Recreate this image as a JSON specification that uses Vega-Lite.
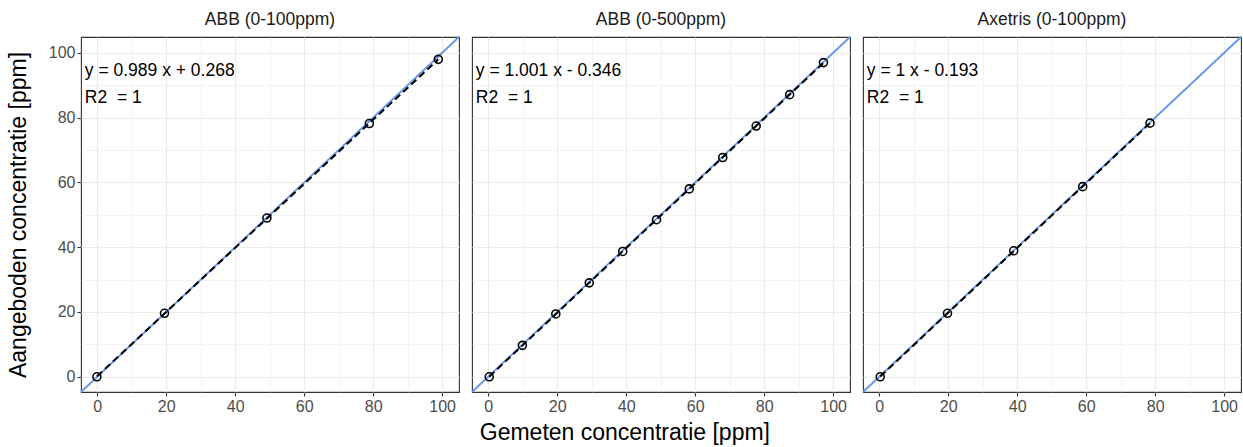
{
  "$schema": "https://vega.github.io/schema/vega-lite/v6.json",
  "padding": {"left": 7, "top": 10, "right": 0, "bottom": 0},
  "background": "white",
  "bounds": "flush",
  "title": {"text": "Gemeten concentratie [ppm]", "orient": "bottom", "anchor": "middle", "fontSize": 23, "font": "Liberation Sans", "fontWeight": "normal", "color": "#000000", "offset": 8},
  "data": {"values": [
    {"panel": "ABB (0-100ppm)", "x": -0.1, "y": 0, "eq": "y = 0.989 x + 0.268", "r2": "R2\u00a0 = 1"},
    {"panel": "ABB (0-100ppm)", "x": 19.5, "y": 19.6, "eq": "y = 0.989 x + 0.268", "r2": "R2\u00a0 = 1"},
    {"panel": "ABB (0-100ppm)", "x": 49.2, "y": 49.0, "eq": "y = 0.989 x + 0.268", "r2": "R2\u00a0 = 1"},
    {"panel": "ABB (0-100ppm)", "x": 78.9, "y": 78.2, "eq": "y = 0.989 x + 0.268", "r2": "R2\u00a0 = 1"},
    {"panel": "ABB (0-100ppm)", "x": 98.9, "y": 98.0, "eq": "y = 0.989 x + 0.268", "r2": "R2\u00a0 = 1"},
    {"panel": "ABB (0-500ppm)", "x": 0.3, "y": 0, "eq": "y = 1.001 x - 0.346", "r2": "R2\u00a0 = 1"},
    {"panel": "ABB (0-500ppm)", "x": 9.9, "y": 9.7, "eq": "y = 1.001 x - 0.346", "r2": "R2\u00a0 = 1"},
    {"panel": "ABB (0-500ppm)", "x": 19.6, "y": 19.4, "eq": "y = 1.001 x - 0.346", "r2": "R2\u00a0 = 1"},
    {"panel": "ABB (0-500ppm)", "x": 29.3, "y": 29.0, "eq": "y = 1.001 x - 0.346", "r2": "R2\u00a0 = 1"},
    {"panel": "ABB (0-500ppm)", "x": 39.0, "y": 38.7, "eq": "y = 1.001 x - 0.346", "r2": "R2\u00a0 = 1"},
    {"panel": "ABB (0-500ppm)", "x": 48.8, "y": 48.5, "eq": "y = 1.001 x - 0.346", "r2": "R2\u00a0 = 1"},
    {"panel": "ABB (0-500ppm)", "x": 58.3, "y": 58.0, "eq": "y = 1.001 x - 0.346", "r2": "R2\u00a0 = 1"},
    {"panel": "ABB (0-500ppm)", "x": 68.0, "y": 67.7, "eq": "y = 1.001 x - 0.346", "r2": "R2\u00a0 = 1"},
    {"panel": "ABB (0-500ppm)", "x": 77.7, "y": 77.4, "eq": "y = 1.001 x - 0.346", "r2": "R2\u00a0 = 1"},
    {"panel": "ABB (0-500ppm)", "x": 87.4, "y": 87.1, "eq": "y = 1.001 x - 0.346", "r2": "R2\u00a0 = 1"},
    {"panel": "ABB (0-500ppm)", "x": 97.2, "y": 97.0, "eq": "y = 1.001 x - 0.346", "r2": "R2\u00a0 = 1"},
    {"panel": "Axetris (0-100ppm)", "x": 0.3, "y": 0, "eq": "y = 1 x - 0.193", "r2": "R2\u00a0 = 1"},
    {"panel": "Axetris (0-100ppm)", "x": 19.8, "y": 19.6, "eq": "y = 1 x - 0.193", "r2": "R2\u00a0 = 1"},
    {"panel": "Axetris (0-100ppm)", "x": 39.0, "y": 38.9, "eq": "y = 1 x - 0.193", "r2": "R2\u00a0 = 1"},
    {"panel": "Axetris (0-100ppm)", "x": 59.0, "y": 58.7, "eq": "y = 1 x - 0.193", "r2": "R2\u00a0 = 1"},
    {"panel": "Axetris (0-100ppm)", "x": 78.5, "y": 78.3, "eq": "y = 1 x - 0.193", "r2": "R2\u00a0 = 1"}
  ]},
  "facet": {"column": {"field": "panel", "type": "nominal", "sort": null, "title": null,
    "header": {"labelFontSize": 17.5, "labelFont": "Liberation Sans", "labelColor": "#1a1a1a", "labelPadding": 9}}},
  "spacing": 13,
  "spec": {
    "width": 378,
    "height": 355,
    "encoding": {
      "x": {"field": "x", "type": "quantitative", "scale": {"domain": [-4.7, 104.9], "nice": false, "zero": false},
        "axis": {"title": null, "values": [0, 10, 20, 30, 40, 50, 60, 70, 80, 90, 100],
          "labelExpr": "datum.value % 20 === 0 ? datum.label : ''",
          "tickOpacity": {"condition": {"test": "datum.value % 20 === 0", "value": 1}, "value": 0},
          "gridWidth": {"condition": {"test": "datum.value % 20 === 0", "value": 1.1}, "value": 0.6}}},
      "y": {"field": "y", "type": "quantitative", "scale": {"domain": [-4.7, 104.9], "nice": false, "zero": false},
        "axis": {"title": "Aangeboden concentratie [ppm]", "values": [0, 10, 20, 30, 40, 50, 60, 70, 80, 90, 100],
          "labelExpr": "datum.value % 20 === 0 ? datum.label : ''",
          "tickOpacity": {"condition": {"test": "datum.value % 20 === 0", "value": 1}, "value": 0},
          "gridWidth": {"condition": {"test": "datum.value % 20 === 0", "value": 1.1}, "value": 0.6}}}
    },
    "layer": [
      {
        "transform": [{"filter": {"field": "y", "equal": 0}}],
        "mark": {"type": "rule", "color": "#6495ED", "strokeWidth": 1.8},
        "encoding": {"x": {"datum": -4.7, "type": "quantitative"}, "y": {"datum": -4.7, "type": "quantitative"}, "x2": {"datum": 104.9}, "y2": {"datum": 104.9}}
      },
      {
        "transform": [{"regression": "y", "on": "x", "groupby": ["panel"]}],
        "mark": {"type": "line", "color": "#000000", "strokeWidth": 2, "strokeDash": [7, 4]},
        "encoding": {}
      },
      {
        "mark": {"type": "point", "shape": "circle", "filled": false, "color": "#000000", "size": 64, "strokeWidth": 1.6, "opacity": 1},
        "encoding": {}
      },
      {
        "transform": [{"filter": {"field": "y", "equal": 0}}],
        "mark": {"type": "text", "align": "left", "baseline": "middle", "fontSize": 17.5, "font": "Liberation Sans", "color": "#000000"},
        "encoding": {"x": {"datum": -3.6, "type": "quantitative"}, "y": {"datum": 94.4, "type": "quantitative"}, "text": {"field": "eq"}}
      },
      {
        "transform": [{"filter": {"field": "y", "equal": 0}}],
        "mark": {"type": "text", "align": "left", "baseline": "middle", "fontSize": 17.5, "font": "Liberation Sans", "color": "#000000"},
        "encoding": {"x": {"datum": -3.6, "type": "quantitative"}, "y": {"datum": 86.1, "type": "quantitative"}, "text": {"field": "r2"}}
      }
    ]
  },
  "config": {
    "font": "Liberation Sans",
    "view": {"stroke": "#333333", "strokeWidth": 1.1},
    "axis": {"domain": false, "grid": true, "gridColor": "#ebebeb", "tickColor": "#333333", "tickSize": 4, "tickWidth": 1.1,
      "labelColor": "#4d4d4d", "labelFontSize": 16, "labelFont": "Liberation Sans", "labelPadding": 2,
      "titleFont": "Liberation Sans", "titleFontSize": 23, "titleFontWeight": "normal", "titleColor": "#000000", "titlePadding": 18},
    "axisX": {"labelAngle": 0}
  }
}
